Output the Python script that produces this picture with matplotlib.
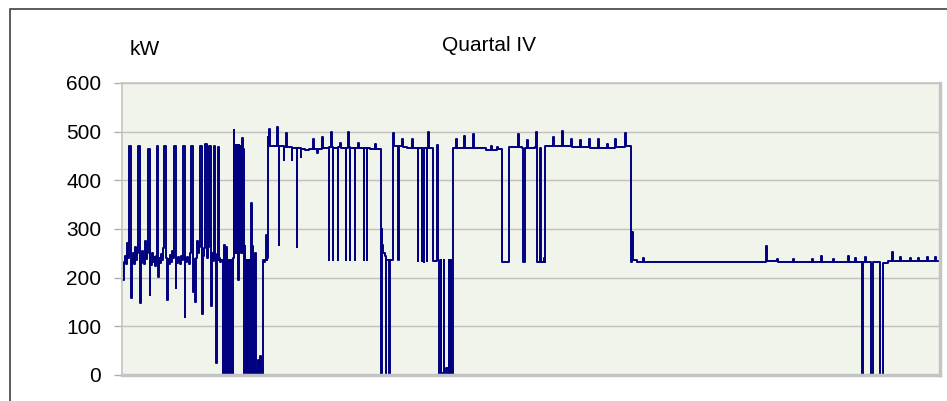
import numpy as np
import matplotlib
matplotlib.use("Agg")
import matplotlib.pyplot as plt
from matplotlib.patches import Rectangle

plt.rcParams['font.family'] = ['Liberation Sans', 'DejaVu Sans']

# Leistung (kW) im Quartal IV, Zeit in Stunden ab 1. Oktober
# Oktober: unruhiger Betrieb um 235 kW mit Spitzen
okt_stunde = [2.7, 5.4, 8.1, 10.8, 13.5, 16.2, 17.6, 21.6, 23.0, 24.3,
              27.0, 29.7, 32.4, 35.1, 37.8, 40.5, 41.9, 45.9, 47.3, 48.6,
              51.3, 54.0, 56.7, 59.4, 62.1, 64.8, 67.5, 68.9, 72.9, 74.3,
              75.6, 78.3, 81.0, 83.7, 86.4, 89.1, 91.8, 93.2, 95.9, 97.2,
              99.9, 102.6, 105.3, 108.0, 110.7, 112.1, 117.5, 118.8, 121.5, 124.2,
              126.9, 129.6, 132.3, 135.0, 137.7, 139.1, 143.1, 144.5, 145.8, 148.5,
              151.2, 153.9, 156.6, 159.3, 162.0, 163.4, 167.4, 168.8, 170.1, 172.8,
              175.5, 178.2, 180.9, 183.6, 185.0, 190.4, 191.7, 194.4, 197.1, 199.8,
              202.5, 205.2, 207.9, 209.3, 214.7, 216.0, 218.7, 221.4, 222.8, 228.2,
              229.5, 232.2, 233.6, 239.0, 240.3, 243.0, 245.7, 248.4, 249.8, 251.1,
              253.8, 255.2, 256.5, 259.2, 260.6, 261.9, 264.6, 267.3]
okt_kw = [195, 232, 245, 228, 272, 240, 470, 470, 240, 158,
          238, 250, 228, 262, 236, 250, 470, 470, 236, 148,
          230, 255, 240, 228, 275, 238, 250, 465, 465, 164,
          235, 226, 250, 233, 242, 225, 245, 470, 470, 201,
          240, 230, 248, 236, 260, 470, 470, 240, 154, 238,
          228, 246, 232, 255, 240, 470, 470, 179, 238, 230,
          242, 235, 228, 245, 236, 470, 470, 119, 240, 233,
          242, 238, 228, 250, 470, 470, 170, 238, 150, 240,
          275, 250, 262, 470, 470, 125, 245, 260, 475, 475,
          240, 262, 470, 470, 142, 250, 235, 470, 240, 248,
          25, 236, 240, 469, 236, 240, 232, 236]

# Ende Oktober: haeufige Abschaltungen
wechsel_stunde = [270.0, 271.4, 272.7, 274.1, 275.4, 276.8, 278.1, 279.5, 280.8, 282.2,
                  283.5, 284.9, 286.2, 287.6, 288.9, 290.3, 291.6, 293.0, 294.3, 295.7,
                  297.0, 298.4, 299.7, 301.1, 302.4, 303.8, 305.1, 306.5, 307.8, 309.2,
                  310.5, 311.9, 313.2, 314.6, 315.9, 317.3, 318.6, 320.0, 321.3, 322.7,
                  324.0, 325.4, 326.7, 328.1, 329.4, 330.8, 332.1, 333.5, 334.8, 336.2,
                  337.5, 338.9, 340.2, 341.6, 342.9, 344.3, 345.6, 347.0, 348.3, 349.7,
                  351.0, 352.4, 353.7, 355.1, 356.4, 359.1, 360.5, 361.8, 364.5, 367.2,
                  369.9, 372.6, 374.0, 375.3, 378.0, 379.4, 380.7, 383.4, 386.1, 388.8,
                  390.2, 391.5, 392.9, 394.2]
wechsel_kw = [236, 0, 232, 2, 267, 0, 236, 0, 262, 3,
              234, 0, 236, 0, 230, 5, 236, 0, 232, 0,
              236, 0, 240, 503, 250, 472, 255, 470, 250, 472,
              260, 470, 195, 472, 252, 470, 255, 470, 250, 470,
              487, 250, 465, 236, 0, 265, 0, 236, 0, 230,
              0, 236, 0, 232, 0, 236, 0, 236, 353, 0,
              265, 0, 236, 0, 5, 250, 0, 10, 0, 30,
              5, 40, 0, 0, 0, 236, 236, 232, 236, 288,
              236, 240, 490, 470]

# November: Volllast um 470 kW
nov_stunde = [396.9, 398.3, 413.1, 418.5, 421.2, 422.6, 423.9, 434.7, 436.1, 437.4,
              442.8, 445.5, 456.3, 457.7, 459.0, 469.8, 471.2, 472.5, 480.6, 482.0,
              483.3, 494.1, 504.9, 515.7, 518.4, 526.5, 529.2, 540.0, 542.7, 556.2,
              557.6, 558.9, 564.3, 567.0, 568.4, 569.7, 580.5, 581.9, 583.2, 588.6,
              591.3, 602.1, 603.5, 604.8, 610.2, 612.9, 614.3, 615.6, 626.4, 627.8,
              629.1, 637.2, 639.9, 650.7, 652.1, 653.4, 658.8, 660.2, 661.5, 669.6,
              683.1, 685.8, 696.6, 698.0, 699.3, 700.7, 702.0, 704.7, 710.1, 711.5,
              712.8, 719.6, 720.9, 722.3, 729.0, 730.4, 731.7, 734.4, 743.9, 745.2,
              746.6, 756.0, 758.7, 769.5, 783.0, 785.7, 796.5, 797.9, 799.2, 807.3,
              808.7, 810.0, 812.7, 814.1, 815.4, 820.8, 822.2, 823.5, 826.2, 828.9,
              837.0, 838.4, 847.8, 850.5, 851.9, 853.2, 854.6, 858.6, 860.0, 861.3,
              866.7, 868.1, 869.4, 874.8, 880.2, 881.6, 882.9, 887.0, 888.3, 892.4,
              893.7]
nov_kw = [505, 470, 470, 510, 470, 267, 470, 470, 442, 468,
          497, 468, 468, 442, 466, 466, 263, 466, 466, 448,
          464, 462, 464, 485, 464, 456, 464, 489, 466, 466,
          236, 468, 500, 468, 236, 466, 466, 236, 468, 477,
          466, 466, 236, 466, 500, 468, 236, 466, 466, 236,
          466, 477, 466, 466, 236, 466, 466, 236, 466, 464,
          475, 464, 464, 302, 0, 300, 267, 250, 245, 0,
          236, 236, 0, 236, 236, 250, 497, 470, 470, 236,
          470, 485, 468, 466, 485, 466, 466, 234, 466, 466,
          234, 466, 466, 232, 466, 466, 234, 466, 499, 466,
          466, 234, 234, 472, 236, 236, 0, 0, 236, 5,
          5, 236, 2, 15, 0, 236, 0, 236, 0, 236,
          467]

# Ende November bis Anfang Dezember
volllast_stunde = [901.8, 904.5, 923.4, 926.1, 947.7, 950.4, 966.6, 982.8, 996.3, 999.0,
                   1012.5, 1015.2, 1023.3, 1024.7, 1042.2, 1043.6, 1044.9, 1069.2, 1071.9, 1080.0,
                   1081.4, 1086.8, 1088.1, 1093.5, 1096.2, 1115.1, 1117.8, 1119.2, 1120.5, 1127.3,
                   1128.6, 1131.3, 1139.4, 1140.8, 1142.1, 1163.7, 1166.4, 1188.0, 1190.7, 1212.3,
                   1215.0, 1236.6, 1239.3, 1260.9, 1263.6, 1285.2, 1287.9, 1309.5, 1312.2, 1331.1,
                   1333.8, 1358.1, 1360.8, 1371.6]
volllast_kw = [485, 467, 491, 467, 495, 467, 466, 462, 470, 462,
               468, 464, 464, 232, 232, 253, 468, 495, 468, 466,
               232, 232, 466, 483, 466, 468, 499, 466, 232, 232,
               466, 232, 240, 232, 470, 490, 470, 501, 470, 485,
               468, 483, 468, 485, 466, 485, 466, 475, 466, 485,
               468, 497, 470, 470]

# Dezember: Teillast um 232 kW
dez_stunde = [1373.0, 1377.0, 1379.7, 1390.5, 1406.7, 1409.4, 1452.6, 1506.6, 1560.6, 1614.6,
              1668.6, 1736.1, 1738.8, 1741.5, 1768.5, 1771.2, 1811.7, 1814.4, 1863.0, 1865.7,
              1887.3, 1890.0, 1919.7, 1922.4, 1960.2, 1962.9, 1979.1, 1981.8, 1995.3, 1996.7,
              1999.4, 2000.7, 2006.1, 2008.8, 2019.6, 2021.0, 2025.0, 2026.4, 2043.9, 2045.3,
              2052.0, 2053.4, 2065.5, 2068.2, 2079.0, 2081.7, 2100.6, 2103.3, 2127.6, 2130.3,
              2149.2, 2151.9, 2173.5, 2176.2, 2195.1, 2197.8, 2205.9]
dez_kw = [232, 294, 236, 232, 240, 232, 233, 232, 233, 232,
          233, 232, 265, 234, 238, 232, 238, 232, 238, 232,
          245, 232, 238, 232, 245, 232, 240, 232, 232, 0,
          0, 232, 243, 232, 232, 0, 0, 232, 232, 0,
          0, 230, 230, 234, 253, 234, 242, 234, 240, 234,
          240, 234, 243, 234, 243, 234, 234]

y_ticks = [0, 100, 200, 300, 400, 500, 600]

stunde = np.concatenate([okt_stunde, wechsel_stunde, nov_stunde, volllast_stunde, dez_stunde])
kw = np.concatenate([okt_kw, wechsel_kw, nov_kw, volllast_kw, dez_kw])

fig = plt.figure(figsize=(9.47, 4.01), dpi=100)
ax = fig.add_axes([122 / 947, 26 / 401, 818 / 947, 292 / 401])
ax.set_facecolor('#f1f4ea')

ax.plot(stunde, kw, color='#000080', lw=1.4, drawstyle='steps-post')

ax.set_xlim(0, 2208)
ax.set_ylim(0, 600)
ax.set_yticks(y_ticks)
ax.set_xticks([])
ax.grid(axis='y', color='#c0c0c0', lw=1.0)
ax.set_axisbelow(True)
ax.tick_params(axis='y', length=6, width=1, color='#b0b0b0', pad=9, labelsize=15)

for side in ['left', 'top']:
    ax.spines[side].set_color('#c4c4c4')
    ax.spines[side].set_linewidth(1.2)
for side in ['right', 'bottom']:
    ax.spines[side].set_color('#c4c4c4')
    ax.spines[side].set_linewidth(2.5)

fig.text(130 / 947, 1 - 55 / 401, 'kW', fontsize=15, va='baseline', ha='left')
fig.text(489 / 947, 1 - 51 / 401, 'Quartal IV', fontsize=15, va='baseline', ha='center')

# Rahmen um das Diagramm
fig.patches.append(Rectangle((10 / 947, -0.2), 1.2, 1.2 - 9 / 401, transform=fig.transFigure,
                             fill=False, edgecolor='#404040', lw=1.2))

fig.savefig('out.png', dpi=100)
